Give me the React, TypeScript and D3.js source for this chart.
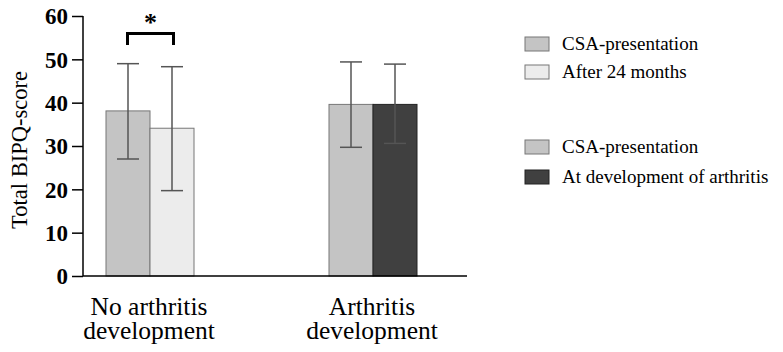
import React, { useEffect, useRef } from "react";
import * as d3 from "d3";

// groups on the x axis (two text lines each)
const groups = ["no", "yes"];
const groupLabels = [
  ["No arthritis", "development"],
  ["Arthritis", "development"],
];

// mean and error bar ends, per group, two bars each
const means = [
  [38.1, 34.1],
  [39.6, 39.6],
];
const errHigh = [
  [49.0, 48.3],
  [49.4, 48.9],
];
const errLow = [
  [27.0, 19.7],
  [29.7, 30.6],
];

const barFills = [
  ["#c4c4c4", "#ececec"],
  ["#c4c4c4", "#404040"],
];

const legendItems = [
  { label: "CSA-presentation", fill: "#c4c4c4" },
  { label: "After 24 months", fill: "#ececec" },
  { label: "CSA-presentation", fill: "#c4c4c4" },
  { label: "At development of arthritis", fill: "#404040" },
];
const legendRows = [44, 72, 147, 177];

const yTicks = [0, 10, 20, 30, 40, 50, 60];

const W = 783;
const H = 352;
const FONT = "'Liberation Serif', 'Times New Roman', serif";

export default function App() {
  const ref = useRef<SVGSVGElement>(null);

  useEffect(() => {
    const svg = d3.select(ref.current);
    svg.selectAll("*").remove();

    const y = d3.scaleLinear().domain([0, 60]).range([276, 16]);
    const x = d3.scalePoint().domain(groups).range([150, 373]);
    const inner = d3.scaleBand<number>().domain([0, 1]).range([-44, 44]);

    const g = svg.append("g");

    // bars
    groups.forEach((grp, gi) => {
      const cx = x(grp)!;
      means[gi].forEach((m, si) => {
        const bx = cx + inner(si)!;
        g.append("rect")
          .attr("x", bx)
          .attr("y", y(m))
          .attr("width", inner.bandwidth())
          .attr("height", y(0) - y(m))
          .attr("fill", barFills[gi][si])
          .attr("stroke", si === 1 && gi === 1 ? "#222" : "#777")
          .attr("stroke-width", 1);
      });
    });

    // error bars
    groups.forEach((grp, gi) => {
      const cx = x(grp)!;
      means[gi].forEach((_, si) => {
        const mx = cx + inner(si)! + inner.bandwidth() / 2;
        const col = "#555";
        g.append("line")
          .attr("x1", mx).attr("x2", mx)
          .attr("y1", y(errLow[gi][si])).attr("y2", y(errHigh[gi][si]))
          .attr("stroke", col).attr("stroke-width", 1.5);
        [errLow[gi][si], errHigh[gi][si]].forEach((v) => {
          g.append("line")
            .attr("x1", mx - 11).attr("x2", mx + 11)
            .attr("y1", y(v)).attr("y2", y(v))
            .attr("stroke", col).attr("stroke-width", 1.5);
        });
      });
    });

    // x axis line
    g.append("line")
      .attr("x1", 83).attr("x2", 467)
      .attr("y1", y(0)).attr("y2", y(0))
      .attr("stroke", "#000").attr("stroke-width", 1.5);

    // y axis
    const yAxis = g.append("g")
      .attr("transform", "translate(83,0)")
      .call(d3.axisLeft(y).tickValues(yTicks).tickSize(11).tickPadding(4).tickFormat(d3.format("d")));
    yAxis.select(".domain").attr("stroke", "#000").attr("stroke-width", 1.5)
      .attr("d", `M0,${y(60)}V${y(0)}`);
    yAxis.selectAll(".tick line").attr("stroke", "#000").attr("stroke-width", 1.5);
    yAxis.selectAll(".tick text")
      .attr("font-family", FONT)
      .attr("font-size", 23)
      .attr("font-weight", "bold")
      .attr("fill", "#000")
      .attr("dy", "0.34em");

    // y label
    g.append("text")
      .attr("transform", `translate(27,${(y(0) + y(60)) / 2 + 4}) rotate(-90)`)
      .attr("text-anchor", "middle")
      .attr("font-family", FONT)
      .attr("font-size", 22.5)
      .attr("fill", "#000")
      .text("Total BIPQ-score");

    // x labels
    groups.forEach((grp, gi) => {
      groupLabels[gi].forEach((line, li) => {
        g.append("text")
          .attr("x", x(grp)! - 1)
          .attr("y", 315 + li * 24)
          .attr("text-anchor", "middle")
          .attr("font-family", FONT)
          .attr("font-size", 25.5)
          .attr("fill", "#000")
          .text(line);
      });
    });

    // significance bracket
    const b1 = x(groups[0])! + inner(0)! + inner.bandwidth() / 2;
    const b2 = x(groups[0])! + inner(1)! + inner.bandwidth() / 2;
    g.append("path")
      .attr("d", `M${b1 - 0.5},45V33.5H${b2 + 1.5}V45`)
      .attr("fill", "none")
      .attr("stroke", "#000")
      .attr("stroke-width", 3);
    g.append("text")
      .attr("x", (b1 + b2) / 2 + 0.5)
      .attr("y", 31)
      .attr("text-anchor", "middle")
      .attr("font-family", FONT)
      .attr("font-size", 26)
      .attr("font-weight", "bold")
      .attr("fill", "#000")
      .text("*");

    // legend
    legendItems.forEach((it, i) => {
      const cy = legendRows[i];
      g.append("rect")
        .attr("x", 525).attr("y", cy - 7)
        .attr("width", 24).attr("height", 14)
        .attr("fill", it.fill)
        .attr("stroke", it.fill === "#404040" ? "#222" : "#777")
        .attr("stroke-width", 1);
      g.append("text")
        .attr("x", 562).attr("y", cy + 6)
        .attr("font-family", FONT)
        .attr("font-size", 19)
        .attr("fill", "#000")
        .text(it.label);
    });
  }, []);

  return (
    <svg
      ref={ref}
      width={W}
      height={H}
      style={{ position: "absolute", left: 0, top: 0, background: "#fff" }}
    />
  );
}
